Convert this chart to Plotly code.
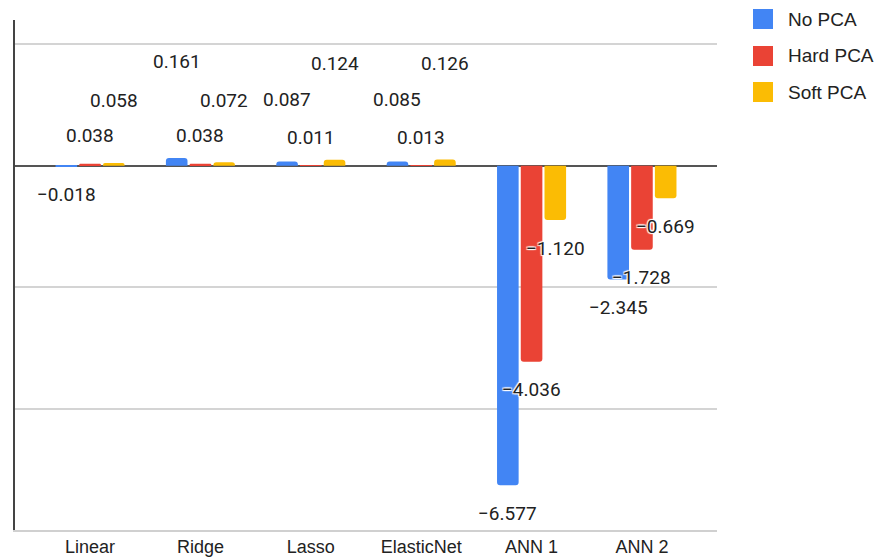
import plotly.graph_objects as go

# Models compared and the score change for each PCA variant
models = ["Linear", "Ridge", "Lasso", "ElasticNet", "ANN 1", "ANN 2"]
series_names = ["No PCA", "Hard PCA", "Soft PCA"]
no_pca = [-0.018, 0.161, 0.087, 0.085, -6.577, -2.345]
hard_pca = [0.038, 0.038, 0.011, 0.013, -4.036, -1.728]
soft_pca = [0.058, 0.072, 0.124, 0.126, -1.120, -0.669]
colors = ["#4285F4", "#EA4335", "#FBBC04"]

series_values = [no_pca, hard_pca, soft_pca]

# Layout geometry (pixels)
W, H = 876, 560
M_L, M_R, M_T, M_B = 15, 159, 20, 30
PLOT_W = W - M_L - M_R
PLOT_H = H - M_T - M_B
X_RANGE = [-0.68, len(models) - 1 + 0.68]
Y_RANGE = [-7.5, 3.0]
BARGAP = 0.355
BARGROUPGAP = 0.09

cat_px = PLOT_W / (X_RANGE[1] - X_RANGE[0])
slot_px = cat_px * (1 - BARGAP) / len(series_values)

LABEL_FONT = dict(family="Roboto, Arial, sans-serif", size=19, color="#222222",
                  shadow="1px 1px 1px #fff, -1px -1px 1px #fff, 1px -1px 1px #fff, -1px 1px 1px #fff")
AXIS_FONT = dict(family="Liberation Sans, Arial, sans-serif", size=18, color="#222222")


def fmt(v):
    return f"{v:.3f}".replace("-", "\u2212")


fig = go.Figure()
for name, vals, col in zip(series_names, series_values, colors):
    fig.add_trace(go.Bar(x=models, y=vals, name=name, marker_color=col,
                         marker_line_width=0, showlegend=False))

# Value labels: negatives sit below the bar end, positives are stacked
# above the bars by size within each model so they do not collide.
annotations = []
for j, m in enumerate(models):
    positives = sorted([s[j] for s in series_values if s[j] >= 0])
    for i, vals in enumerate(series_values):
        v = vals[j]
        if v < 0:
            yshift = -28
        else:
            yshift = 28 + 34 * positives.index(v)
        annotations.append(dict(
            x=m, y=v, xref="x", yref="y", text=fmt(v), showarrow=False,
            xshift=(i - 1) * slot_px, yshift=yshift,
            xanchor="center", yanchor="middle", font=LABEL_FONT,
        ))

# Legend on the right: rounded swatches with labels
shapes = []
legend_rows_px = [19, 56, 92]
for name, col, py in zip(series_names, colors, legend_rows_px):
    yc = (H - M_B - py) / PLOT_H
    half = 10 / PLOT_H
    x0 = (753 - M_L) / PLOT_W
    x1 = (773 - M_L) / PLOT_W
    shapes.append(dict(type="rect", xref="paper", yref="paper",
                       x0=x0, x1=x1, y0=yc - half, y1=yc + half,
                       fillcolor=col, line=dict(width=0)))
    annotations.append(dict(
        x=(786 - M_L) / PLOT_W, y=yc, xref="paper", yref="paper",
        text=name, showarrow=False, xanchor="left", yanchor="middle",
        font=dict(family="Liberation Sans, Arial, sans-serif", size=19, color="#222222"),
    ))

fig.update_layout(
    width=W, height=H,
    margin=dict(l=M_L, r=M_R, t=M_T, b=M_B, pad=0, autoexpand=False),
    paper_bgcolor="white", plot_bgcolor="white",
    barmode="group", bargap=BARGAP, bargroupgap=BARGROUPGAP,
    barcornerradius=3,
    annotations=annotations, shapes=shapes,
    showlegend=False,
    xaxis=dict(
        type="category", range=X_RANGE, showgrid=False, automargin=False,
        showline=True, linecolor="#d0d0d0", linewidth=1.5,
        ticks="", tickfont=AXIS_FONT, ticklabelstandoff=0,
        fixedrange=True,
    ),
    yaxis=dict(
        range=Y_RANGE, tick0=0, dtick=2.5, showticklabels=False, ticks="",
        automargin=False,
        showgrid=True, gridcolor="#d4d4d4", gridwidth=1.5,
        zeroline=True, zerolinecolor="#555555", zerolinewidth=1.5,
        showline=True, linecolor="#444444", linewidth=2,
        fixedrange=True,
    ),
)

fig.write_html("out.html")
